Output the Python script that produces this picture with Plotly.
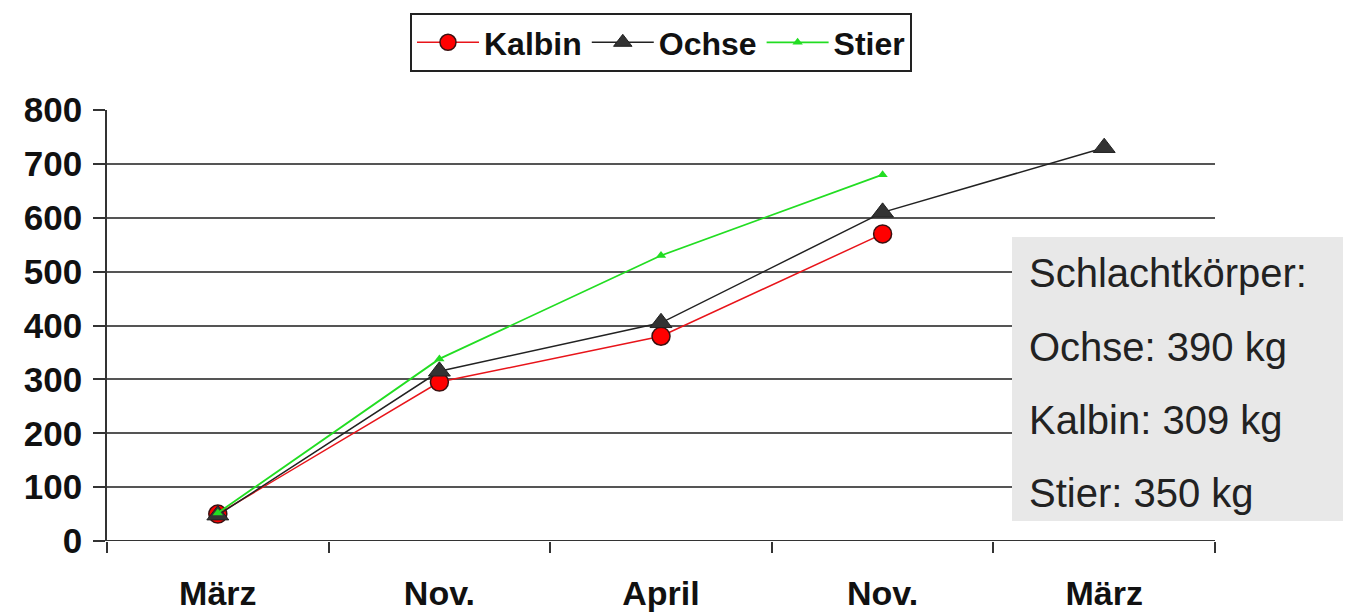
import plotly.graph_objects as go

categories = ["März", "Nov.", "April", "Nov.", "März"]
kalbin = [50, 295, 380, 570, None]
ochse = [48, 315, 405, 610, 730]
stier = [52, 338, 530, 680, None]
box_lines = ["Schlachtkörper:", "Ochse: 390 kg", "Kalbin: 309 kg", "Stier: 350 kg"]

xs = list(range(len(categories)))

OFF = 8  # default page body margin
PL, PR, PT, PB = 107, 1215, 110, 541  # plot area in page pixels
W, H = 1351 - OFF, 613 - OFF
L, T = PL - OFF, PT - OFF
R, B = W - (PR - OFF), H - (PB - OFF)
pw = PR - PL
ph = PB - PT

def px_x(p):
    return (p - PL) / pw

def px_y(p):
    return (PB - p) / ph

FONT = "Liberation Sans, Arial"

fig = go.Figure()
fig.add_trace(go.Scatter(
    x=xs, y=kalbin, name="Kalbin", mode="lines+markers",
    line=dict(color="#e8141a", width=1.5),
    marker=dict(symbol="circle", size=18, color="#ff0000", line=dict(color="#3a1010", width=1.5)),
))
fig.add_trace(go.Scatter(
    x=xs, y=ochse, name="Ochse", mode="lines+markers",
    line=dict(color="#222222", width=1.5),
    marker=dict(symbol="triangle-up", size=19, color="#333333", line=dict(color="#222222", width=1)),
))
fig.add_trace(go.Scatter(
    x=xs, y=stier, name="Stier", mode="lines+markers",
    line=dict(color="#22dd22", width=1.8),
    marker=dict(symbol="triangle-up", size=9, color="#22dd22"),
))

# annotation box
fig.add_shape(type="rect", xref="paper", yref="paper",
              x0=px_x(1012), x1=px_x(1351), y0=px_y(521), y1=px_y(237),
              fillcolor="#e8e8e8", line=dict(width=0), layer="above")
for txt, yp in zip(box_lines, [273, 347, 420, 493]):
    fig.add_annotation(text=txt, xref="paper", yref="paper", x=px_x(1027), y=px_y(yp),
                       xanchor="left", yanchor="middle", showarrow=False,
                       font=dict(family=FONT, size=40, color="#222222"))

fig.update_layout(
    width=W, height=H,
    margin=dict(l=L, r=R, t=T, b=B, autoexpand=False),
    plot_bgcolor="white", paper_bgcolor="white",
    font=dict(family=FONT, color="#111111"),
    showlegend=True,
    legend=dict(orientation="h", x=0.5, xanchor="center", y=px_y(13), yanchor="top",
                bordercolor="#222222", borderwidth=2, bgcolor="white",
                font=dict(size=32, family=FONT, weight="bold"),
                itemwidth=62, tracegroupgap=0),
    xaxis=dict(range=[-0.5, 4.5], tickvals=xs, ticktext=categories, ticks="",
               showgrid=False, zeroline=False, showline=False, automargin=False,
               tickfont=dict(size=34, weight="bold"), ticklabelstandoff=29,
               minor=dict(tickvals=[i - 0.5 for i in range(len(categories) + 1)],
                          ticks="outside", ticklen=11, tickcolor="#333333", tickwidth=1.5,
                          showgrid=False)),
    yaxis=dict(range=[0, 800], dtick=100, showgrid=True, gridcolor="#555555", gridwidth=2,
               zeroline=False, showline=True, linecolor="#333333", linewidth=1.5,
               automargin=False,
               ticks="outside", ticklen=12, tickcolor="#333333", tickwidth=1.5,
               tickfont=dict(size=35, weight="bold"), ticklabelstandoff=4),
)
fig.add_shape(type="line", xref="paper", yref="y", x0=0, x1=1, y0=0, y1=0,
              line=dict(color="#333333", width=2), layer="below")

fig.write_html("out.html")
